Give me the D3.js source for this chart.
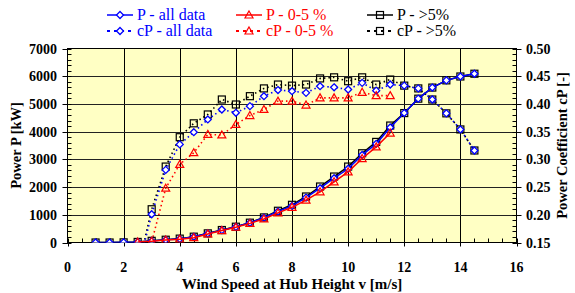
<!DOCTYPE html>
<html><head><meta charset="utf-8">
<script src="https://cdn.jsdelivr.net/npm/d3@7"></script>
<style>body{margin:0;background:#fff}svg{display:block}text{font-family:"Liberation Serif","Times New Roman",serif}</style>
</head><body><svg id="c" width="575" height="293"></svg>
<script>
// ---- data ----
const vAll = [1,1.5,2,2.5,3,3.5,4,4.5,5,5.5,6,6.5,7,7.5,8,8.5,9,9.5,10,10.5,11,11.5,12,12.5,13,13.5,14,14.5];
const pAll = [0,0,5,20,55,95,130,205,325,445,565,710,895,1120,1320,1620,1960,2320,2660,3160,3560,4150,4670,5190,5590,5850,5990,6090];
const pGt5 = [0,0,5,20,60,100,140,210,330,450,570,715,905,1145,1360,1660,2020,2380,2740,3220,3630,4220,4670,5190,5590,5850,5990,6090];
const v05 = [2.5,3,3.5,4,4.5,5,5.5,6,6.5,7,7.5,8,8.5,9,9.5,10,10.5,11,11.5];
const p05 = [15,45,90,120,175,310,430,550,690,850,1070,1270,1530,1830,2190,2550,3030,3450,3950];
const vCp = [2.5,3,3.5,4,4.5,5,5.5,6,6.5,7,7.5,8,8.5,9,9.5,10,10.5,11,11.5,12,12.5,13,13.5,14,14.5];
const cpAll = [0.10,0.201,0.281,0.327,0.349,0.372,0.390,0.384,0.396,0.414,0.425,0.423,0.420,0.432,0.430,0.426,0.438,0.424,0.435,0.433,0.428,0.408,0.383,0.354,0.316];
const cpGt5 = [0.10,0.210,0.287,0.340,0.365,0.381,0.408,0.399,0.414,0.428,0.435,0.433,0.435,0.446,0.448,0.441,0.448,0.435,0.444,0.433,0.428,0.408,0.383,0.354,0.316];
const cp05 = [0.05,0.151,0.248,0.291,0.312,0.345,0.344,0.363,0.379,0.390,0.405,0.405,0.398,0.411,0.411,0.411,0.421,0.415,0.415];
const xTicks = [0,2,4,6,8,10,12,14,16];
const pTicks = [0,1000,2000,3000,4000,5000,6000,7000];
const cpTicks = [0.15,0.20,0.25,0.30,0.35,0.40,0.45,0.50];

const svg = d3.select("#c");
const L=67.5, R=516.5, T=48.5, B=242.5;
const x = d3.scaleLinear().domain([0,16]).range([L,R]);
const yP = d3.scaleLinear().domain([0,7000]).range([B,T]);
const yC = d3.scaleLinear().domain([0.15,0.5]).range([B,T]);

svg.append("rect").attr("x",L).attr("y",T).attr("width",R-L).attr("height",B-T).attr("fill","#FFFFC4");
svg.append("defs").append("clipPath").attr("id","clip").append("rect").attr("x",L).attr("y",T-6).attr("width",R-L+6).attr("height",B-T+6);

// gridlines
const g = svg.append("g");
xTicks.slice(1,-1).forEach(t=>g.append("line").attr("x1",Math.round(x(t))+0.5).attr("x2",Math.round(x(t))+0.5).attr("y1",T).attr("y2",B).attr("stroke","#000"));
pTicks.slice(1,-1).forEach(t=>g.append("line").attr("x1",L).attr("x2",R).attr("y1",Math.round(yP(t))+0.5).attr("y2",Math.round(yP(t))+0.5).attr("stroke","#222"));
svg.append("rect").attr("x",L).attr("y",T).attr("width",R-L).attr("height",B-T).attr("fill","none").attr("stroke","#000");

// axes with ticks
const ax = svg.append("g");
d3.range(0,16.01,0.5).forEach(t=>{
  const maj = t%2===0, px=Math.round(x(t))+0.5;
  ax.append("line").attr("x1",px).attr("x2",px).attr("y1",maj?B+4:B).attr("y2",B-4).attr("stroke","#000");
});
d3.range(0,7001,200).forEach(t=>{
  const maj=t%1000===0, py=Math.round(yP(t))+0.5;
  ax.append("line").attr("x1",maj?L-5:L).attr("x2",L+4).attr("y1",py).attr("y2",py).attr("stroke","#000");
  ax.append("line").attr("x1",R-4).attr("x2",maj?R+5:R).attr("y1",py).attr("y2",py).attr("stroke","#000");
});
const bold = (s,f)=>s.attr("font-weight","bold").attr("font-size",f||14).attr("fill","#000");
xTicks.forEach(t=>bold(ax.append("text").attr("x",x(t)).attr("y",272).attr("text-anchor","middle").text(t)));
pTicks.forEach(t=>bold(ax.append("text").attr("x",57).attr("y",yP(t)+5).attr("text-anchor","end").text(t)));
cpTicks.forEach(t=>bold(ax.append("text").attr("x",526).attr("y",yC(t)+5).attr("text-anchor","start").text(t.toFixed(2))));
bold(ax.append("text").attr("x",292).attr("y",289).attr("text-anchor","middle").text("Wind Speed at Hub Height v [m/s]"),15);
bold(ax.append("text").attr("transform",`translate(21,${(T+B)/2}) rotate(-90)`).attr("text-anchor","middle").text("Power P [kW]"),14.5);
bold(ax.append("text").attr("transform",`translate(567,${(T+B)/2}) rotate(-90)`).attr("text-anchor","middle").text("Power Coefficient cP [-]"),14.5);

// markers
function marker(sel,type,cx,cy){
  if(type==="sq") sel.append("rect").attr("x",cx-3.5).attr("y",cy-3.5).attr("width",7).attr("height",7).attr("fill","none").attr("stroke","#000").attr("stroke-width",1.2);
  else if(type==="di") sel.append("path").attr("d",`M${cx},${cy-3.5}L${cx+3.5},${cy}L${cx},${cy+3.5}L${cx-3.5},${cy}Z`).attr("fill","#fff").attr("stroke","#0000FF").attr("stroke-width",1.3);
  else sel.append("path").attr("d",`M${cx},${cy-4}L${cx+4},${cy+3}L${cx-4},${cy+3}Z`).attr("fill","none").attr("stroke","#FF0000").attr("stroke-width",1.2);
}
const plot = svg.append("g").attr("clip-path","url(#clip)");
function series(vs,vals,y,color,dash,type){
  const pts = vs.map((v,i)=>[x(v),y(vals[i])]);
  plot.append("path").attr("d",d3.line()(pts)).attr("fill","none").attr("stroke",color).attr("stroke-width",dash?1.6:1.5).attr("stroke-dasharray",dash?"1.5,3":null);
  const mg = plot.append("g");
  pts.forEach(p=>marker(mg,type,p[0],p[1]));
}
series(vCp,cpGt5,yC,"#000",true,"sq");
series(vCp,cpAll,yC,"#0000FF",true,"di");
series(v05,cp05,yC,"#FF0000",true,"tr");
series(vAll,pGt5,yP,"#000",false,"sq");
series(vAll,pAll,yP,"#0000FF",false,"di");
series(v05,p05,yP,"#FF0000",false,"tr");

// legend
const leg = svg.append("g");
const items = [
  {x:107,y:15,c:"#0000FF",d:false,t:"di",s:"P - all data"},
  {x:107,y:31,c:"#0000FF",d:true,t:"di",s:"cP - all data"},
  {x:236,y:15,c:"#FF0000",d:false,t:"tr",s:"P - 0-5 %"},
  {x:236,y:31,c:"#FF0000",d:true,t:"tr",s:"cP - 0-5 %"},
  {x:367,y:15,c:"#000",d:false,t:"sq",s:"P - >5%"},
  {x:367,y:31,c:"#000",d:true,t:"sq",s:"cP - >5%"}
];
items.forEach(it=>{
  leg.append("line").attr("x1",it.x).attr("x2",it.x+26).attr("y1",it.y).attr("y2",it.y).attr("stroke",it.c).attr("stroke-width",it.d?2:1.5).attr("stroke-dasharray",it.d?"3,4":null);
  marker(leg,it.t,it.x+13,it.y);
  leg.append("text").attr("x",it.x+30).attr("y",it.y+5).attr("font-size",16).attr("fill",it.c).text(it.s);
});
</script></body></html>
